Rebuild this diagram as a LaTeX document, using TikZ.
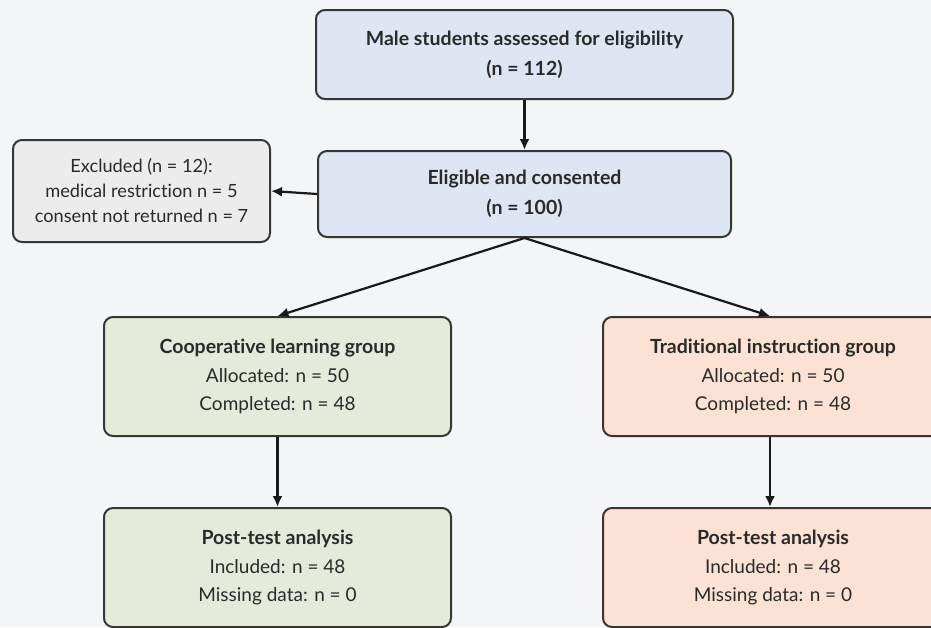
\documentclass[tikz,border=0pt]{standalone}
\usepackage{fontspec}
\setmainfont{Lato}[Ligatures={NoCommon,NoRare}]
\usetikzlibrary{arrows.meta}
\definecolor{bg}{HTML}{F4F5F6}
\definecolor{bluefill}{HTML}{DEE6F4}
\definecolor{greyfill}{HTML}{ECECEC}
\definecolor{greenfill}{HTML}{E4EBDB}
\definecolor{peachfill}{HTML}{FBE2D4}
\definecolor{edge}{HTML}{363636}
\definecolor{txt}{HTML}{2A2A2A}
\newcommand{\hd}[1]{{\fontsize{19.5}{24}\selectfont\bfseries #1}}
\tikzset{
  x=1pt,y=-1pt,
  boxstyle/.style={draw=edge, line width=2pt, rounded corners=9pt, align=center,
    text=txt, font=\fontsize{19}{28}\selectfont, inner sep=0pt},
  conn/.style={draw=black!90, line width=2.2pt, -{Latex[length=11pt,width=10pt]}}
}
\begin{document}
\begin{tikzpicture}
\useasboundingbox (0,0) rectangle (931,627);
\clip (0,0) rectangle (931,627);
\fill[bg] (0,0) rectangle (931,627);
\node[boxstyle, fill=bluefill, minimum width=417pt, minimum height=89pt,
  font=\fontsize{19}{30}\selectfont] (top) at (524.5,54.5)
  {\hd{Male students assessed for eligibility}\\\hd{(n = 112)}};
\node[boxstyle, fill=bluefill, minimum width=413pt, minimum height=86pt,
  font=\fontsize{19}{30}\selectfont] (elig) at (524.5,194)
  {\hd{Eligible and consented}\\\hd{(n = 100)}};
\node[boxstyle, fill=greyfill, minimum width=257pt, minimum height=102pt,
  font=\fontsize{18.2}{25}\selectfont] (excl) at (141.5,191)
  {Excluded (n = 12):\\medical restriction n = 5\\consent not returned n = 7};
\node[boxstyle, fill=greenfill, minimum width=347pt, minimum height=119pt] (coop) at (277.5,376.5)
  {\hd{Cooperative learning group}\\[1pt]Allocated: n = 50\\Completed: n = 48};
\node[boxstyle, fill=peachfill, minimum width=340pt, minimum height=119pt] (trad) at (773,376.5)
  {\hd{Traditional instruction group}\\[1pt]Allocated: n = 50\\Completed: n = 48};
\node[boxstyle, fill=greenfill, minimum width=347pt, minimum height=119pt] (postc) at (277.5,567.5)
  {\hd{Post-test analysis}\\[1pt]Included: n = 48\\Missing data: n = 0};
\node[boxstyle, fill=peachfill, minimum width=340pt, minimum height=119pt] (postt) at (773,567.5)
  {\hd{Post-test analysis}\\[1pt]Included: n = 48\\Missing data: n = 0};
\draw[conn] (top.south) -- (elig.north);
\draw[conn] (elig.west) -- (excl.east);
\draw[conn] (elig.south) -- (coop.north);
\draw[conn] (elig.south) -- ([xshift=-3pt]trad.north);
\draw[conn] (coop.south) -- (postc.north);
\draw[conn] ([xshift=-3pt]trad.south) -- ([xshift=-3pt]postt.north);
\end{tikzpicture}
\end{document}
